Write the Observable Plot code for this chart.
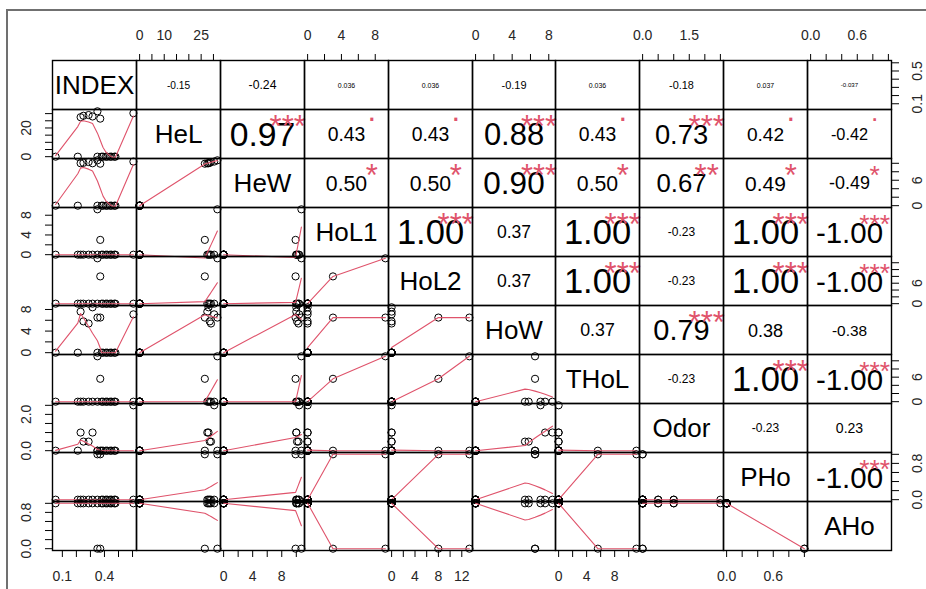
<!DOCTYPE html>
<html><head><meta charset="utf-8">
<script src="https://cdn.jsdelivr.net/npm/d3@7"></script>
<script src="https://cdn.jsdelivr.net/npm/@observablehq/plot@0.6"></script>
<style>
html,body{margin:0;padding:0;background:#fff;}
#chart{position:relative;width:926px;height:589px;overflow:hidden;background:#fff;font-family:"Liberation Sans",Arial,sans-serif;}
#border{position:absolute;left:6px;top:9px;width:940px;height:600px;border-top:2px solid #707070;border-left:2px solid #707070;}
.cell{position:absolute;}
.cell svg{overflow:visible;}
</style></head><body><div id="chart"><div id="border"></div></div>
<script>
const variables = ["INDEX","HeL","HeW","HoL1","HoL2","HoW","THoL","Odor","PHo","AHo"];
const INDEX = [0.052,0.21,0.23,0.25,0.287,0.315,0.35,0.35,0.37,0.38,0.39,0.41,0.42,0.44,0.45,0.47,0.478,0.606];
const HeL   = [0,0,27.5,28.5,29.0,28.0,31.6,0,26.5,0,0,0,0,0,0,0,0,30.3];
const HeW   = [0,0,10.0,10.1,10.3,10.0,10.7,0,9.9,0,0,0,0,0,0,0,0,10.4];
const HoL1  = [0,0,0,0,0,0,9.2,0,3.0,0,0,0,0,0,0,0,0,0];
const HoL2  = [0,0,0,0,0,0,13.3,0,8.0,0,0,0,0,0,0,0,0,0];
const HoW   = [0,0,7.6,5.8,5.4,8.4,6.5,0,6.5,0,0,0,0,0,0,0,0,7.1];
const THoL  = [0,0,0,0,0,0,11.1,0,5.6,0,0,0,0,0,0,0,0,0];
const Odor  = [0,0,1.0,0.5,0.5,1.0,0,0,0,0,0,0,0,0,0,0,0,2.5];
const PHo   = [0,0,0,0,0,0,1,0,1,0,0,0,0,0,0,0,0,0];
const AHo   = [1,1,1,1,1,1,0,1,0,1,1,1,1,1,1,1,1,1];

// correlation labels (upper triangle, row by row) and significance marks
const corrRows = [
  ["-0.15","-0.24","0.036","0.036","-0.19","0.036","-0.18","0.037","-0.037"],
  ["0.97","0.43","0.43","0.88","0.43","0.73","0.42","-0.42"],
  ["0.50","0.50","0.90","0.50","0.67","0.49","-0.49"],
  ["1.00","0.37","1.00","-0.23","1.00","-1.00"],
  ["0.37","1.00","-0.23","1.00","-1.00"],
  ["0.37","0.79","0.38","-0.38"],
  ["-0.23","1.00","-1.00"],
  ["-0.23","0.23"],
  ["-1.00"]
];
const signifRows = [
  ["","","","","","","","",""],
  ["***",".",".","***",".","***",".","."],
  ["*","*","***","*","**","*","*"],
  ["***","","***","","***","***"],
  ["","***","","***","***"],
  ["","***","",""],
  ["","***","***"],
  ["",""],
  ["***"]
];

// axis ticks per variable, and which ticks carry a label on each side
const tickValues = {
  INDEX:[0.1,0.2,0.3,0.4,0.5,0.6], HeL:[0,5,10,15,20,25,30], HeW:[0,2,4,6,8,10],
  HoL1:[0,2,4,6,8], HoL2:[0,2,4,6,8,10,12], HoW:[0,2,4,6,8], THoL:[0,2,4,6,8,10],
  Odor:[0,0.5,1,1.5,2,2.5], PHo:[0,0.2,0.4,0.6,0.8,1], AHo:[0,0.2,0.4,0.6,0.8,1]
};
const topLabels    = {HeL:[0,10,25], HoL1:[0,4,8], HoW:[0,4,8], Odor:[0,1.5], AHo:[0,0.6]};
const bottomLabels = {INDEX:[0.1,0.4], HeW:[0,4,8], HoL2:[0,4,8,12], THoL:[0,4,8], PHo:[0,0.6]};
const leftLabels   = {HeL:[0,20], HoL1:[0,4,8], HoW:[0,4,8], Odor:[0,2], AHo:[0,0.8]};
const rightLabels  = {INDEX:[0.1,0.5], HeW:[0,6], HoL2:[0,6], THoL:[0,6], PHo:[0,0.8]};
const decimalVars = ["INDEX","Odor","PHo","AHo"];

// ---- helpers ----
const columns = {INDEX,HeL,HeW,HoL1,HoL2,HoW,THoL,Odor,PHo,AHo};
const N = INDEX.length;
const data = d3.range(N).map(k => Object.fromEntries(variables.map(v => [v, columns[v][k]])));
const fmt = v => decimalVars.includes(v) ? d3.format(".1f") : d3.format("d");
function ext(v){ const [a,b]=d3.extent(columns[v]); const p=0.04*(b-a); return [a-p,b+p]; }

// R's lowess (clowess), 1-indexed port
function lowest(x,y,n,xs,nleft,nright,w,userw,rw){
  const range=x[n]-x[1];
  const h=Math.max(xs-x[nleft], x[nright]-xs), h9=0.999*h, h1=0.001*h;
  let a=0, j=nleft;
  while(j<=n){
    w[j]=0; const r=Math.abs(x[j]-xs);
    if(r<=h9){ w[j]= r<=h1 ? 1 : Math.pow(1-Math.pow(r/h,3),3); if(userw) w[j]*=rw[j]; a+=w[j]; }
    else if(x[j]>xs) break;
    j++;
  }
  const nrt=j-1;
  if(a<=0) return {ok:false};
  for(j=nleft;j<=nrt;j++) w[j]/=a;
  if(h>0){
    a=0; for(j=nleft;j<=nrt;j++) a+=w[j]*x[j];
    let b=xs-a, c=0; for(j=nleft;j<=nrt;j++) c+=w[j]*(x[j]-a)*(x[j]-a);
    if(Math.sqrt(c)>0.001*range){ b/=c; for(j=nleft;j<=nrt;j++) w[j]*=(b*(x[j]-a)+1); }
  }
  let ys=0; for(j=nleft;j<=nrt;j++) ys+=w[j]*y[j];
  return {ok:true, ys};
}
function lowess(x0,y0,f=2/3,nsteps=3){
  const n=x0.length;
  const o=d3.range(n).sort((a,b)=>x0[a]-x0[b]||a-b);
  const x=[0,...o.map(i=>x0[i])], y=[0,...o.map(i=>y0[i])];
  const delta=0.01*(x[n]-x[1]);
  const ys=new Array(n+1).fill(0), rw=new Array(n+1).fill(0), res=new Array(n+1).fill(0);
  const ns=Math.max(2,Math.min(n,Math.floor(f*n+1e-7)));
  let iter=1;
  while(iter<=nsteps+1){
    let nleft=1,nright=ns,last=0,i=1;
    for(;;){
      if(nright<n){ const d1=x[i]-x[nleft], d2=x[nright+1]-x[i]; if(d1>d2){nleft++;nright++;continue;} }
      const r=lowest(x,y,n,x[i],nleft,nright,res,iter>1,rw);
      ys[i]= r.ok ? r.ys : y[i];
      if(last<i-1){ const denom=x[i]-x[last]; for(let j=last+1;j<i;j++){ const al=(x[j]-x[last])/denom; ys[j]=al*ys[i]+(1-al)*ys[last]; } }
      last=i;
      const cut=x[last]+delta;
      for(i=last+1;i<=n;i++){ if(x[i]>cut) break; if(x[i]===x[last]){ ys[i]=ys[last]; last=i; } }
      i=Math.max(last+1,i-1);
      if(last>=n) break;
    }
    for(let k=1;k<=n;k++) res[k]=y[k]-ys[k];
    let sc=0; for(let k=1;k<=n;k++) sc+=Math.abs(res[k]); sc/=n;
    if(iter>nsteps) break;
    const s=[]; for(let k=1;k<=n;k++) s.push(Math.abs(res[k])); s.sort((a,b)=>a-b);
    const m1=Math.floor(n/2); let cmad;
    if(n%2===0){ const m2=n-m1-1; cmad=3*(s[m1]+s[m2]); } else cmad=6*s[m1];
    if(cmad<1e-7*sc) break;
    const c9=0.999*cmad, c1=0.001*cmad;
    for(let k=1;k<=n;k++){ const r=Math.abs(res[k]); rw[k]= r<=c1?1: r<=c9? Math.pow(1-Math.pow(r/cmad,2),2):0; }
    iter++;
  }
  return d3.range(1,n+1).map(k=>({x:x[k], y:ys[k]}));
}

const ctx=document.createElement("canvas").getContext("2d");
ctx.font='100px "Liberation Sans", Arial, sans-serif';
const emWidth=s=>ctx.measureText(s).width/100;

// ---- layout ----
const X0=52, Y0=60, CW=83.9, CH=49, RED="#DF536B", FONT='"Liberation Sans", Arial, sans-serif';
const AXFS=14, AXCOL="#262626";
const chart=document.getElementById("chart");
const nv=variables.length;

for(let i=0;i<nv;i++) for(let j=0;j<nv;j++){
  const left=Math.round(X0+j*CW), w=Math.round(X0+(j+1)*CW)-left;
  const top=Math.round(Y0+i*CH), h=Math.round(Y0+(i+1)*CH)-top;
  const xv=variables[j], yv=variables[i];
  const marks=[];
  if(i===j){
    marks.push(Plot.text([yv],{frameAnchor:"middle", text:d=>d, fontSize:26, dy:1}));
  } else if(i>j){
    marks.push(Plot.dot(data,{x:xv, y:yv, r:3.6, stroke:"black", strokeWidth:1}));
    marks.push(Plot.line(lowess(columns[xv],columns[yv]),{x:"x", y:"y", stroke:RED, strokeWidth:1.1}));
  } else {
    const txt=corrRows[i][j-i-1], sig=signifRows[i][j-i-1];
    const r=Math.abs(+txt);
    const fs0=0.8*w/emWidth(txt);
    const fs=fs0*(r+0.3)/1.3;
    marks.push(Plot.text([txt],{frameAnchor:"middle", text:d=>d, fontSize:fs, textAnchor:"middle", lineAnchor:"middle", dy:0.04*fs}));
    if(sig){
      const sfs=0.9*fs0;
      const extra = sig==="." ? -0.27*sfs : 0.265*sfs;
      marks.push(Plot.text([sig],{frameAnchor:"top-left", dx:0.8*w, dy:0.2*h+extra, text:d=>d, fill:RED, fontSize:sfs, textAnchor:"middle", lineAnchor:"middle"}));
    }
  }
  // axes on the outer edges
  const tickOpts={tickSize:7, tickFormat:()=>"", label:null, strokeWidth:1};
  if(i===0 && topLabels[xv]){
    marks.push(Plot.axisX(tickValues[xv],{anchor:"top", ...tickOpts}));
    marks.push(Plot.text(topLabels[xv],{x:d=>d, frameAnchor:"top", dy:-25, text:fmt(xv), fontSize:AXFS, fill:AXCOL, lineAnchor:"middle"}));
  }
  if(i===nv-1 && bottomLabels[xv]){
    marks.push(Plot.axisX(tickValues[xv],{anchor:"bottom", ...tickOpts}));
    marks.push(Plot.text(bottomLabels[xv],{x:d=>d, frameAnchor:"bottom", dy:26, text:fmt(xv), fontSize:AXFS, fill:AXCOL, lineAnchor:"middle"}));
  }
  if(j===0 && leftLabels[yv]){
    marks.push(Plot.axisY(tickValues[yv],{anchor:"left", ...tickOpts}));
    marks.push(Plot.text(leftLabels[yv],{y:d=>d, frameAnchor:"left", dx:-26, rotate:-90, text:fmt(yv), fontSize:AXFS, fill:AXCOL, textAnchor:"middle", lineAnchor:"middle"}));
  }
  if(j===nv-1 && rightLabels[yv]){
    marks.push(Plot.axisY(tickValues[yv],{anchor:"right", ...tickOpts}));
    marks.push(Plot.text(rightLabels[yv],{y:d=>d, frameAnchor:"right", dx:26, rotate:-90, text:fmt(yv), fontSize:AXFS, fill:AXCOL, textAnchor:"middle", lineAnchor:"middle"}));
  }
  marks.push(Plot.frame({stroke:"black", strokeWidth:1.4}));
  const svg=Plot.plot({
    width:w, height:h, margin:0,
    x:{domain:ext(xv), axis:null},
    y:{domain:ext(yv), axis:null},
    style:{overflow:"visible", background:"none", fontFamily:FONT},
    marks
  });
  const div=document.createElement("div");
  div.className="cell";
  div.style.left=left+"px"; div.style.top=top+"px"; div.style.width=w+"px"; div.style.height=h+"px";
  div.appendChild(svg);
  chart.appendChild(div);
}
</script></body></html>
